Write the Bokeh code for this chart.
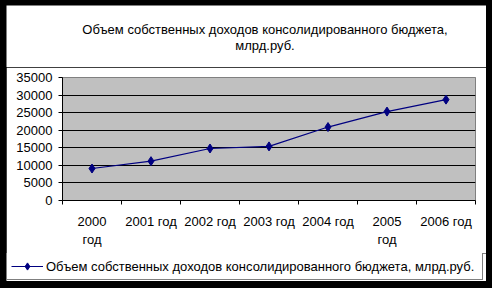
from bokeh.plotting import figure
from bokeh.layouts import column
from bokeh.models import Range1d, FixedTicker, Legend, LegendItem, ColumnDataSource, Label
from bokeh.embed import file_html
from bokeh.resources import INLINE

# ---- data ----
categories = ["2000\nгод", "2001 год", "2002 год", "2003 год", "2004 год", "2005\nгод", "2006 год"]
values = [9100, 11200, 14800, 15400, 20900, 25300, 28700]
y_ticks = [0, 5000, 10000, 15000, 20000, 25000, 30000, 35000]
title_line1 = "Объем собственных доходов консолидированного бюджета,"
title_line2 = "млрд.руб."
series_name = "Объем собственных доходов консолидированного бюджета, млрд.руб."

FONT = "Liberation Sans"
NAVY = "#000080"
n = len(categories)
centers = [i + 0.5 for i in range(n)]
bounds = list(range(n + 1))

src = ColumnDataSource(data=dict(x=centers, y=values))


def strip(height):
    f = figure(width=480, height=height, output_backend="svg", toolbar_location=None,
               x_range=Range1d(0, 480), y_range=Range1d(0, height),
               x_axis_location=None, y_axis_location=None,
               min_border=0, min_border_left=0, min_border_right=0,
               min_border_top=0, min_border_bottom=0,
               border_fill_color="white", background_fill_color="white",
               outline_line_color=None)
    f.grid.visible = False
    f.frame_align = False
    return f


# ---- title strip ----
t = strip(62)
for txt, ypos in ((title_line1, 38), (title_line2, 22)):
    t.add_layout(Label(x=258.5, y=ypos, text=txt, text_align="center",
                       text_baseline="middle", text_font=FONT,
                       text_font_size="13px", text_color="black"))

# ---- main chart ----
p = figure(width=480, height=186, output_backend="svg", toolbar_location=None,
           x_range=Range1d(0, n), y_range=Range1d(y_ticks[0], y_ticks[-1]),
           min_border_left=56, min_border_right=11, min_border_top=10, min_border_bottom=53,
           border_fill_color="white", background_fill_color="#C0C0C0",
           outline_line_color="#808080")
p.frame_align = False

p.xgrid.visible = False
p.ygrid.ticker = FixedTicker(ticks=y_ticks)
p.ygrid.grid_line_color = "black"
p.ygrid.grid_line_width = 1

p.yaxis.ticker = FixedTicker(ticks=y_ticks)
p.yaxis.major_tick_in = 0
p.yaxis.major_tick_out = 4
p.yaxis.minor_tick_line_color = None
p.yaxis.axis_line_color = "black"
p.yaxis.major_tick_line_color = "black"
p.yaxis.major_label_text_font = FONT
p.yaxis.major_label_text_font_size = "13px"
p.yaxis.major_label_text_color = "black"
p.yaxis.major_label_standoff = 6

p.xaxis.ticker = FixedTicker(ticks=centers, minor_ticks=bounds)
p.xaxis.major_label_overrides = {c: lab for c, lab in zip(centers, categories)}
p.xaxis.major_tick_in = 0
p.xaxis.major_tick_out = 0
p.xaxis.minor_tick_in = 0
p.xaxis.minor_tick_out = 4
p.xaxis.minor_tick_line_color = "black"
p.xaxis.axis_line_color = "black"
p.xaxis.major_label_text_font = FONT
p.xaxis.major_label_text_font_size = "13px"
p.xaxis.major_label_text_color = "black"
p.xaxis.major_label_standoff = 9

p.line("x", "y", source=src, line_color=NAVY, line_width=1.2)
p.scatter("x", "y", source=src, marker="diamond", size=9,
          fill_color=NAVY, line_color=NAVY)

# ---- legend strip (key renderers share the data but lie outside its ranges) ----
q = strip(28)
q.x_range = Range1d(-100, -99)
q.y_range = Range1d(-100, -99)
key_line = q.line("x", "y", source=src, line_color=NAVY, line_width=1.2)
key_pt = q.scatter("x", "y", source=src, marker="diamond", size=9,
                   fill_color=NAVY, line_color=NAVY)
legend = Legend(items=[LegendItem(label=series_name, renderers=[key_line, key_pt])],
                location=(0, 1), orientation="horizontal",
                border_line_color="black", border_line_width=1,
                background_fill_color="white", background_fill_alpha=1,
                padding=4, margin=0, spacing=0,
                glyph_width=32, glyph_height=18, label_height=18, label_width=432,
                label_standoff=3, label_text_font=FONT, label_text_font_size="13px",
                label_text_color="black")
q.add_layout(legend, "center")

layout = column(t, p, q, spacing=0, styles={"background-color": "black",
                                            "padding": "5px 6px 7px 6px"})

open("out.html", "w").write(file_html(layout, INLINE))
